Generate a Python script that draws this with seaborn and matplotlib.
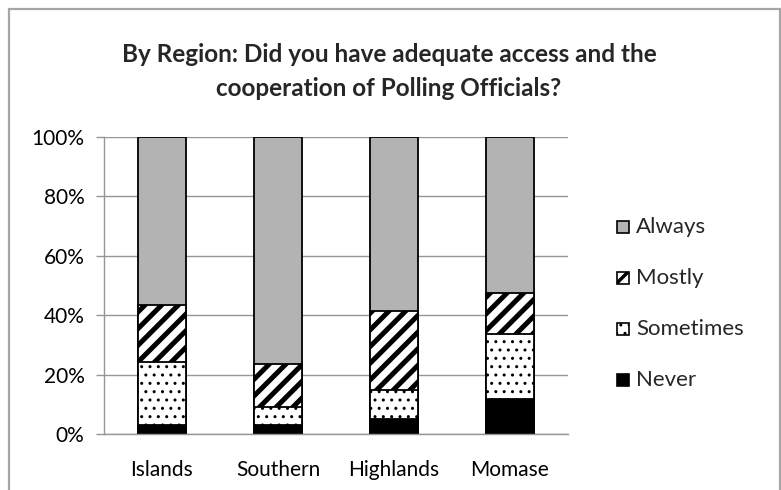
import matplotlib
matplotlib.use("Agg")
import matplotlib.pyplot as plt
import seaborn as sns
import numpy as np
import pandas as pd
from matplotlib.patches import Rectangle
from matplotlib.lines import Line2D
from matplotlib.ticker import FuncFormatter

regions = ["Islands", "Southern", "Highlands", "Momase"]
never = [3.1, 3.0, 5.0, 11.7]
sometimes = [21.0, 6.2, 9.9, 22.0]
mostly = [19.4, 14.4, 26.4, 13.8]
always = [56.5, 76.4, 58.7, 52.5]

series = ["Always", "Mostly", "Sometimes", "Never"]
values = {"Never": never, "Sometimes": sometimes, "Mostly": mostly, "Always": always}

sns.set_theme(style="white")
plt.rcParams["font.family"] = ["Lato", "DejaVu Sans"]

fig = plt.figure(figsize=(7.81, 4.90), dpi=100)
ax = fig.add_axes([104 / 781, 1 - 434 / 490, 464 / 781, 297 / 490])

# stacked shares: draw cumulative totals, widest stack first
order_bottom_up = ["Never", "Sometimes", "Mostly", "Always"]
cum = np.zeros(len(regions))
tops = {}
for s in order_bottom_up:
    cum = cum + np.array(values[s])
    tops[s] = cum.copy()

styles = {
    "Always": dict(color="#b3b3b3", hatch=None, hlw=1.0),
    "Mostly": dict(color="white", hatch="//", hlw=3.6),
    "Sometimes": dict(color="white", hatch="..", hlw=1.0),
    "Never": dict(color="black", hatch=None, hlw=1.0),
}

for s in series:
    df = pd.DataFrame({"region": regions, "top": tops[s]})
    n_before = len(ax.patches)
    sns.barplot(data=df, x="region", y="top", ax=ax, color=styles[s]["color"],
                width=0.41, edgecolor="black", linewidth=1.3, saturation=1)
    for p in ax.patches[n_before:]:
        p.set_facecolor(styles[s]["color"])
        if styles[s]["hatch"]:
            p.set_hatch(styles[s]["hatch"])
            if hasattr(p, "set_hatch_linewidth"):
                p.set_hatch_linewidth(styles[s]["hlw"])

grid_grey = "#969696"
ax.set_ylim(0, 100)
ax.set_xlim(-0.5, 3.5)
ax.set_yticks(np.arange(0, 101, 20))
ax.yaxis.set_major_formatter(FuncFormatter(lambda v, _: f"{int(v)}%"))
ax.yaxis.grid(True, color=grid_grey, linewidth=1.0)
ax.set_axisbelow(True)
ax.set_xlabel("")
ax.set_ylabel("")
for side in ["top", "right"]:
    ax.spines[side].set_visible(False)
for side in ["left", "bottom"]:
    ax.spines[side].set_visible(True)
    ax.spines[side].set_color(grid_grey)
    ax.spines[side].set_linewidth(1.0)

ax.set_xticks([0, 1, 2, 3])
ax.set_xticklabels(regions)
ax.set_xticks([-0.5, 0.5, 1.5, 2.5, 3.5], minor=True)
ax.tick_params(axis="x", which="major", length=0, pad=19, labelsize=15, colors="black")
ax.tick_params(axis="x", which="minor", length=6, color=grid_grey, width=1.0, direction="out")
ax.tick_params(axis="y", which="major", length=6, color=grid_grey, width=1.0, direction="out",
               pad=8, labelsize=15, colors="black")
ax.tick_params(axis="both", bottom=True, left=True)
ax.tick_params(axis="x", which="major", bottom=False)

fig.text(389 / 781, 1 - 55 / 490, "By Region: Did you have adequate access and the",
         ha="center", va="center", fontsize=17.5, fontweight="bold")
fig.text(389 / 781, 1 - 88 / 490, "cooperation of Polling Officials?",
         ha="center", va="center", fontsize=17.5, fontweight="bold")

# legend, top to bottom
legend_y = [227, 278, 329, 380]
for s, y in zip(series, legend_y):
    r = Rectangle((617 / 781, 1 - (y + 6) / 490), 12 / 781, 12 / 490,
                  transform=fig.transFigure, facecolor=styles[s]["color"],
                  edgecolor="black", linewidth=1.2)
    if styles[s]["hatch"]:
        r.set_hatch("/" if s == "Mostly" else "..")
        if hasattr(r, "set_hatch_linewidth"):
            r.set_hatch_linewidth(2.5 if s == "Mostly" else 1.0)
    fig.add_artist(r)
    fig.text(636 / 781, 1 - y / 490, s, ha="left", va="center", fontsize=16)

# chart area frame (open at the bottom)
frame_grey = "#a6a6a6"
for xs, ys in [([9, 781], [9, 9]), ([9, 9], [9, 490]), ([780, 780], [9, 490])]:
    fig.add_artist(Line2D([x / 781 for x in xs], [1 - y / 490 for y in ys],
                          transform=fig.transFigure, color=frame_grey, linewidth=1.6))

fig.savefig("out.png", dpi=100)
